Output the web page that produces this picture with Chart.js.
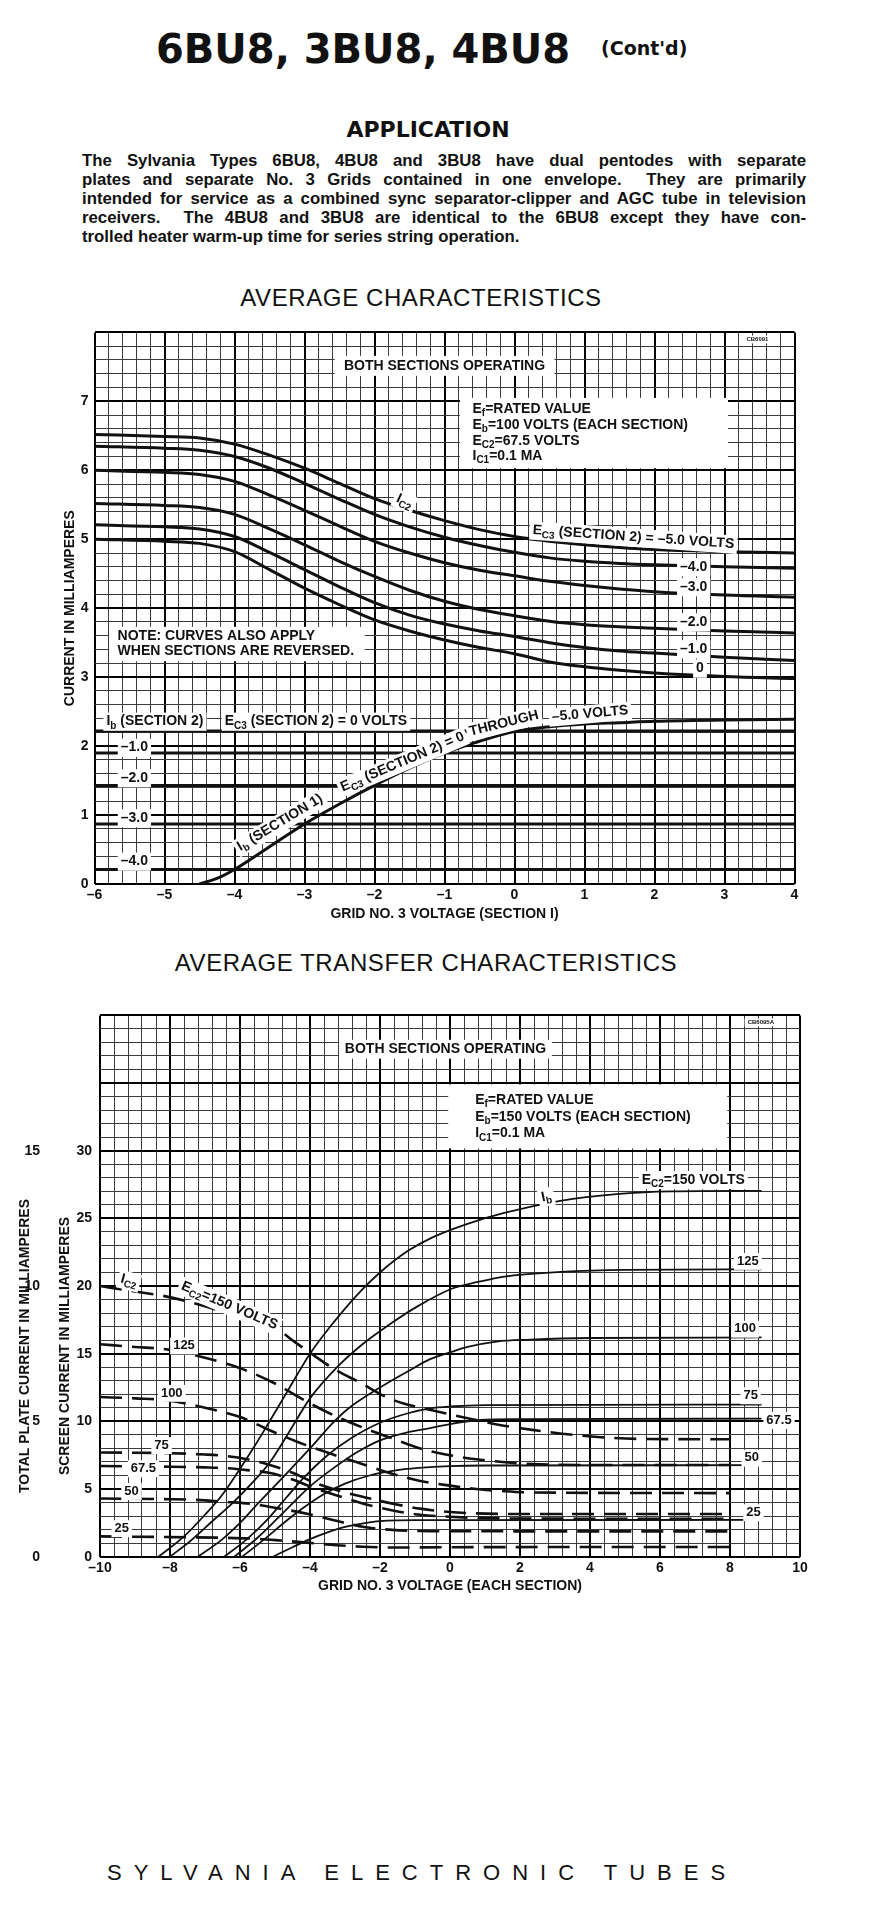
<!DOCTYPE html>
<html lang="en">
<head>
<meta charset="UTF-8">
<title>6BU8, 3BU8, 4BU8 (Cont'd)</title>
<script src="https://cdn.jsdelivr.net/npm/chart.js"></script>
<style>
  * { margin: 0; padding: 0; }
  body { width: 878px; height: 1913px; background: #fff; position: relative; overflow: hidden; color: #111; font-family: "Liberation Sans", Arial, sans-serif; }
  .abs { position: absolute; white-space: nowrap; }
  #tubes { left: 156px; top: 24px; font: bold 40px "DejaVu Sans", sans-serif; line-height: 50px; }
  #contd { left: 601px; top: 37px; font: bold 19px "DejaVu Sans", sans-serif; }
  #app { left: 0; width: 856px; top: 117px; text-align: center; font: bold 22px "DejaVu Sans", sans-serif; }
  #para { left: 82px; width: 724px; top: 151px; font: bold 16.8px "Liberation Sans", Arial, sans-serif; line-height: 19px; white-space: normal; }
  #para div { text-align: justify; text-align-last: justify; }
  #para div.last { text-align: left; text-align-last: left; }
  .head2 { left: 0; text-align: center; font: 24px "Liberation Sans", Arial, sans-serif; letter-spacing: 0.6px; }
  #foot { left: 107px; top: 1860px; font: 22px "Liberation Sans", Arial, sans-serif; letter-spacing: 12px; }
  .chartbox { position: absolute; left: 0; width: 878px; }
</style>
</head>
<body>
<div class="abs" id="tubes">6BU8, 3BU8, 4BU8</div>
<div class="abs" id="contd">(Cont'd)</div>
<div class="abs" id="app">APPLICATION</div>
<div class="abs" id="para">
  <div>The Sylvania Types 6BU8, 4BU8 and 3BU8 have dual pentodes with separate</div>
  <div>plates and separate No. 3 Grids contained in one envelope.&nbsp; They are primarily</div>
  <div>intended for service as a combined sync separator-clipper and AGC tube in television</div>
  <div>receivers.&nbsp; The 4BU8 and 3BU8 are identical to the 6BU8 except they have con-</div>
  <div class="last">trolled heater warm-up time for series string operation.</div>
</div>
<div class="abs head2" style="top:284px;width:842px">AVERAGE CHARACTERISTICS</div>
<div class="chartbox" style="top:318px;height:620px"><canvas id="chart1"></canvas></div>
<div class="abs head2" style="top:949px;width:852px">AVERAGE TRANSFER CHARACTERISTICS</div>
<div class="chartbox" style="top:995px;height:615px"><canvas id="chart2"></canvas></div>
<div class="abs" id="foot">SYLVANIA ELECTRONIC TUBES</div>

<script>
// ---------- chart 1 : average characteristics ----------
// grid no.3 voltage (section 1)
const grid3V = [-6, -5, -4.5, -4, -3.5, -3, -2.5, -2, -1.5, -1, -0.5, 0, 0.5, 1, 1.5, 2, 3, 4];
// Ic2 for Ec3 (section 2) = -5, -4, -3, -2, -1, 0 volts
const ic2Ec3m5 = [6.52, 6.49, 6.47, 6.38, 6.22, 6.03, 5.81, 5.59, 5.42, 5.27, 5.14, 5.04, 4.97, 4.92, 4.88, 4.85, 4.82, 4.80];
const ic2Ec3m4 = [6.35, 6.32, 6.29, 6.20, 6.03, 5.81, 5.58, 5.36, 5.18, 5.03, 4.91, 4.81, 4.73, 4.68, 4.65, 4.63, 4.60, 4.58];
const ic2Ec3m3 = [6.00, 5.97, 5.94, 5.84, 5.64, 5.42, 5.19, 4.97, 4.80, 4.66, 4.55, 4.47, 4.39, 4.33, 4.28, 4.24, 4.19, 4.16];
const ic2Ec3m2 = [5.52, 5.49, 5.46, 5.36, 5.15, 4.92, 4.68, 4.46, 4.26, 4.10, 3.98, 3.89, 3.81, 3.76, 3.73, 3.71, 3.67, 3.64];
const ic2Ec3m1 = [5.21, 5.18, 5.15, 5.04, 4.81, 4.56, 4.31, 4.08, 3.90, 3.77, 3.67, 3.59, 3.50, 3.43, 3.38, 3.35, 3.29, 3.24];
const ic2Ec3z0 = [5.00, 4.97, 4.94, 4.82, 4.56, 4.29, 4.05, 3.83, 3.67, 3.54, 3.43, 3.34, 3.22, 3.15, 3.10, 3.06, 3.01, 2.98];
// Ib (section 1)
const ib1V = [-4.5, -4.25, -4, -3.5, -3, -2.5, -2, -1.5, -1, -0.5, 0, 0.5, 1, 1.5, 2, 3, 4];
const ib1 = [0, 0.08, 0.21, 0.54, 0.87, 1.16, 1.43, 1.68, 1.90, 2.07, 2.21, 2.28, 2.32, 2.34, 2.36, 2.38, 2.39];
// Ib (section 2), flat lines for Ec3 (section 2)
const ib2Ec3 = [0, -1, -2, -3, -4];
const ib2Level = [2.22, 1.90, 1.43, 0.87, 0.21];
const x1Range = [-6, 4];

// ---------- chart 2 : average transfer characteristics ----------
const ec2Volts = [150, 125, 100, 75, 67.5, 50, 25];
// total plate current Ib (mA, outer scale)
const ibX150 = [-8.33, -7.6, -7.0, -6.5, -6.05, -5.6, -5.2, -4.65, -4.0, -3.33, -2.67, -2.0, -1.2, -0.5, 0.5, 1.55, 3.15, 4.75, 6.35, 8.9];
const ibY150 = [0, 0.75, 1.55, 2.3, 3.15, 4.05, 4.9, 6.1, 7.5, 8.65, 9.65, 10.5, 11.3, 11.8, 12.3, 12.7, 13.15, 13.4, 13.5, 13.52];
const ibX125 = [-8.0, -7.4, -6.8, -6.2, -5.6, -5.14, -4.6, -4.0, -3.19, -2.5, -1.65, -0.93, 0.05, 0.8, 1.55, 3.15, 5.0, 8.9];
const ibY125 = [0, 0.6, 1.3, 2.0, 2.8, 3.5, 4.6, 5.85, 7.05, 7.85, 8.65, 9.25, 9.9, 10.15, 10.35, 10.52, 10.6, 10.62];
const ibX100 = [-7.2, -6.5, -6.0, -5.5, -4.76, -4.0, -3.38, -2.93, -2.0, -1.2, -0.57, 0, 0.5, 1.33, 2.3, 4.0, 8.9];
const ibY100 = [0, 0.65, 1.25, 1.95, 2.95, 4.0, 4.9, 5.45, 6.25, 6.85, 7.3, 7.55, 7.75, 7.95, 8.02, 8.08, 8.1];
const ibX75 = [-6.45, -5.8, -5.2, -4.7, -4.19, -3.5, -2.86, -2.0, -1.2, -0.57, 0, 1.0, 8.9];
const ibY75 = [0, 0.65, 1.4, 2.15, 2.9, 3.75, 4.35, 4.95, 5.3, 5.48, 5.55, 5.6, 5.62];
const ibX675 = [-6.16, -5.5, -4.9, -4.4, -4.0, -3.3, -2.67, -2.0, -1.2, -0.57, 0, 0.86, 2.0, 8.9];
const ibY675 = [0, 0.7, 1.45, 2.1, 2.6, 3.3, 3.85, 4.3, 4.6, 4.75, 4.9, 5.05, 5.08, 5.1];
const ibX50 = [-5.94, -5.3, -4.7, -4.2, -3.62, -3.0, -2.3, -1.6, -0.9, 0, 1.0, 8.9];
const ibY50 = [0, 0.65, 1.3, 1.8, 2.3, 2.7, 3.0, 3.18, 3.28, 3.35, 3.37, 3.38];
const ibX25 = [-5.06, -4.5, -4.0, -3.5, -3.0, -2.4, -1.8, -1.0, 0, 8.9];
const ibY25 = [0, 0.35, 0.65, 0.9, 1.1, 1.25, 1.33, 1.35, 1.35, 1.36];
// screen current Ic2 (mA, inner scale)
const icX150 = [-10, -9, -8.05, -7, -6, -5, -4.4, -3.9, -3.33, -2.6, -1.65, -0.48, 0.57, 1.5, 2.35, 3.95, 5.55, 8];
const icY150 = [20.0, 19.6, 19.2, 18.5, 17.7, 16.9, 15.8, 14.9, 13.9, 12.9, 11.6, 10.8, 10.2, 9.7, 9.37, 8.9, 8.7, 8.68];
const icX125 = [-10, -9, -8.05, -7, -5.97, -5, -4.05, -3.2, -2.45, -1.6, -0.85, 0, 0.75, 1.5, 2.35, 3.95, 8];
const icY125 = [15.7, 15.5, 15.3, 14.7, 13.9, 12.8, 11.4, 10.3, 9.5, 8.7, 8.0, 7.5, 7.2, 7.0, 6.85, 6.78, 6.78];
const icX100 = [-10, -9, -8.05, -7, -5.97, -5.2, -4.37, -3.4, -2.45, -1.6, -0.85, 0, 0.75, 1.5, 2.35, 8];
const icY100 = [11.8, 11.7, 11.55, 11.0, 10.3, 9.4, 8.5, 7.6, 6.8, 6.1, 5.6, 5.25, 5.0, 4.85, 4.75, 4.7];
const icX75 = [-10, -8, -7, -6.45, -5.8, -5.17, -4.5, -3.9, -3.2, -2.45, -1.6, -0.85, 0, 0.75, 2, 8];
const icY75 = [7.7, 7.65, 7.55, 7.45, 7.2, 6.8, 6.2, 5.5, 4.9, 4.4, 3.9, 3.55, 3.3, 3.2, 3.15, 3.15];
const icX675 = [-10, -8, -7, -6.45, -5.8, -5.17, -4.5, -3.9, -3.2, -2.45, -1.6, -0.85, 0, 0.75, 2, 8];
const icY675 = [6.7, 6.65, 6.6, 6.55, 6.4, 6.2, 5.7, 5.1, 4.5, 3.9, 3.4, 3.1, 2.95, 2.87, 2.82, 2.8];
const icX50 = [-10, -8, -7.25, -6.4, -5.65, -4.85, -4.05, -3.25, -2.45, -1.65, -0.85, 0, 8];
const icY50 = [4.3, 4.25, 4.2, 4.05, 3.9, 3.55, 3.16, 2.65, 2.2, 1.98, 1.9, 1.88, 1.87];
const icX25 = [-10, -8, -6.45, -5.5, -4.85, -4, -3.25, -2.5, -1.65, 0, 8];
const icY25 = [1.5, 1.45, 1.4, 1.32, 1.2, 1.02, 0.85, 0.74, 0.68, 0.7, 0.72];
const x2Range = [-10, 10];

const FONT = '"Liberation Sans", Arial, sans-serif';
const INK = '#111';

function pts(xs, ys) { return xs.map((x, i) => ({ x: x, y: ys[i] })); }
function near(v, step) { return Math.abs(v / step - Math.round(v / step)) < 1e-6; }
function dash(v) { return v < 0 ? '\u2013' + Math.abs(v) : String(v); }

// text with ~subscript~ parts
function drawRich(ctx, text, x, y, size, align, rot, bg) {
  const parts = text.split('~');
  const big = 'bold ' + size + 'px ' + FONT;
  const small = 'bold ' + Math.round(size * 0.72) + 'px ' + FONT;
  let w = 0;
  const widths = parts.map((p, i) => {
    ctx.font = i % 2 ? small : big;
    const m = ctx.measureText(p).width;
    w += m;
    return m;
  });
  ctx.save();
  ctx.translate(x, y);
  ctx.rotate(rot * Math.PI / 180);
  let sx = align === 'left' ? 0 : align === 'right' ? -w : -w / 2;
  if (bg) {
    ctx.fillStyle = '#fff';
    ctx.fillRect(sx - 3, -size * 0.62, w + 6, size * 1.3);
  }
  ctx.fillStyle = INK;
  ctx.textBaseline = 'middle';
  ctx.textAlign = 'left';
  parts.forEach((p, i) => {
    ctx.font = i % 2 ? small : big;
    ctx.fillText(p, sx, i % 2 ? size * 0.32 : 0);
    sx += widths[i];
  });
  ctx.restore();
}

const annotate = {
  id: 'annotate',
  afterDatasetsDraw(chart, args, opts) {
    const ctx = chart.ctx;
    const xs = chart.scales.x, ys = chart.scales.y;
    ctx.save();
    (opts.boxes || []).forEach(b => {
      const x1 = xs.getPixelForValue(b[0]), y1 = ys.getPixelForValue(b[1]);
      const x2 = xs.getPixelForValue(b[2]), y2 = ys.getPixelForValue(b[3]);
      ctx.fillStyle = '#fff';
      ctx.fillRect(x1, y1, x2 - x1, y2 - y1);
    });
    (opts.labels || []).forEach(l => {
      drawRich(ctx, l.text, xs.getPixelForValue(l.x), ys.getPixelForValue(l.y),
        l.size || opts.size || 14, l.align || 'center', l.rot || 0, l.bg !== false);
    });
    (opts.titles || []).forEach(t => {
      drawRich(ctx, t.text, t.px, t.py, t.size || 14, 'center', t.rot || 0, false);
    });
    ctx.restore();
  }
};

function lineSet(data, extra) {
  return Object.assign({
    data: data, borderColor: INK, borderWidth: 3, pointRadius: 0, fill: false,
    cubicInterpolationMode: 'monotone', showLine: true
  }, extra || {});
}

function gridOpts(majorStep) {
  return {
    drawTicks: false,
    color: ctx => (ctx.tick && near(ctx.tick.value, majorStep)) ? '#000' : '#3a3a3a',
    lineWidth: ctx => (ctx.tick && near(ctx.tick.value, majorStep)) ? 2 : 1
  };
}
const tickFont = { family: FONT, size: 14, weight: 'bold' };
const titleFont = { family: FONT, size: 14, weight: 'bold' };

// ---------- chart 1 ----------
const ic2Sets = [ic2Ec3m5, ic2Ec3m4, ic2Ec3m3, ic2Ec3m2, ic2Ec3m1, ic2Ec3z0].map(s => lineSet(pts(grid3V, s)));
const ib2Sets = ib2Level.map(v => lineSet(pts(x1Range, [v, v]), { cubicInterpolationMode: 'default', tension: 0 }));

new Chart(document.getElementById('chart1'), {
  type: 'line',
  data: { datasets: ic2Sets.concat(ib2Sets, [lineSet(pts(ib1V, ib1))]) },
  options: {
    responsive: true, maintainAspectRatio: false, animation: false, events: [],
    layout: { padding: { top: 10, right: 83.5, left: 0, bottom: 0 } },
    plugins: {
      legend: { display: false }, tooltip: { enabled: false },
      annotate: {
        size: 14,
        boxes: [[-2.57, 7.66, 0.57, 7.37], [-0.78, 7.05, 3.05, 6.03], [-5.79, 3.73, -2.14, 3.23]],
        labels: [
          { x: -1.0, y: 7.515, text: 'BOTH SECTIONS OPERATING', bg: false },
          { x: 3.47, y: 7.9, text: 'CB6091', size: 6 },
          { x: -0.6, y: 6.89, text: 'E~f~=RATED VALUE', align: 'left', bg: false },
          { x: -0.6, y: 6.66, text: 'E~b~=100 VOLTS (EACH SECTION)', align: 'left', bg: false },
          { x: -0.6, y: 6.43, text: 'E~C2~=67.5 VOLTS', align: 'left', bg: false },
          { x: -0.6, y: 6.21, text: 'I~C1~=0.1 MA', align: 'left', bg: false },
          { x: -1.57, y: 5.55, text: 'I~C2~', rot: 25 },
          { x: 1.7, y: 5.03, text: 'E~C3~ (SECTION 2) = \u20135.0 VOLTS', rot: 4 },
          { x: 2.56, y: 4.6, text: '\u20134.0' },
          { x: 2.56, y: 4.31, text: '\u20133.0' },
          { x: 2.56, y: 3.80, text: '\u20132.0' },
          { x: 2.56, y: 3.41, text: '\u20131.0' },
          { x: 2.65, y: 3.13, text: '0' },
          { x: -5.67, y: 3.59, text: 'NOTE: CURVES ALSO APPLY', align: 'left', bg: false },
          { x: -5.67, y: 3.38, text: 'WHEN SECTIONS ARE REVERSED.', align: 'left', bg: false },
          { x: -5.83, y: 2.36, text: 'I~b~ (SECTION 2)', align: 'left' },
          { x: -4.14, y: 2.36, text: 'E~C3~ (SECTION 2) = 0 VOLTS', align: 'left' },
          { x: -5.43, y: 1.98, text: '\u20131.0' },
          { x: -5.43, y: 1.54, text: '\u20132.0' },
          { x: -5.43, y: 0.96, text: '\u20133.0' },
          { x: -5.43, y: 0.33, text: '\u20134.0' },
          { x: -3.35, y: 0.89, text: 'I~b~ (SECTION 1)', rot: -31 },
          { x: -1.6, y: 1.77, text: 'E~C3~ (SECTION 2) = 0', rot: -23 },
          { x: -0.15, y: 2.33, text: 'THROUGH', rot: -14 },
          { x: 1.08, y: 2.47, text: '\u20135.0 VOLTS', rot: -5 }
        ]
      }
    },
    scales: {
      x: {
        type: 'linear', min: x1Range[0], max: x1Range[1],
        ticks: { stepSize: 0.2, autoSkip: false, maxRotation: 0, padding: 3, color: INK, font: tickFont,
          callback: v => near(v, 1) ? dash(Math.round(v)) : '' },
        grid: gridOpts(1), border: { display: false },
        title: { display: true, text: 'GRID NO. 3 VOLTAGE (SECTION I)', color: INK, font: titleFont, padding: { top: 0, bottom: 15.6 } },
        afterFit: s => { s.height = 54; }
      },
      y: {
        type: 'linear', min: 0, max: 8,
        ticks: { stepSize: 0.2, autoSkip: false, padding: 6, color: INK, font: tickFont,
          callback: v => (near(v, 1) && v <= 7) ? String(Math.round(v)) : '' },
        grid: gridOpts(1), border: { display: false },
        title: { display: true, text: 'CURRENT IN MILLIAMPERES', color: INK, font: titleFont, padding: { top: 61.6, bottom: 0 } },
        afterFit: s => { s.width = 94.5; }
      }
    }
  },
  plugins: [annotate]
});

// ---------- chart 2 ----------
const ibSets = [[ibX150, ibY150], [ibX125, ibY125], [ibX100, ibY100], [ibX75, ibY75], [ibX675, ibY675], [ibX50, ibY50], [ibX25, ibY25]]
  .map(p => lineSet(pts(p[0], p[1]), { yAxisID: 'y2', borderWidth: 1.8 }));
const icSets = [[icX150, icY150], [icX125, icY125], [icX100, icY100], [icX75, icY75], [icX675, icY675], [icX50, icY50], [icX25, icY25]]
  .map(p => lineSet(pts(p[0], p[1]), { yAxisID: 'y', borderWidth: 2.6, borderDash: [22, 10] }));

new Chart(document.getElementById('chart2'), {
  type: 'line',
  data: { datasets: ibSets.concat(icSets) },
  options: {
    responsive: true, maintainAspectRatio: false, animation: false, events: [],
    layout: { padding: { top: 10, right: 78, left: 0, bottom: 0 } },
    plugins: {
      legend: { display: false }, tooltip: { enabled: false },
      annotate: {
        size: 13,
        boxes: [[-3.17, 38.2, 2.91, 36.8], [-0.05, 34.9, 7.92, 30.17]],
        labels: [
          { x: -0.13, y: 37.5, text: 'BOTH SECTIONS OPERATING', bg: false, size: 14 },
          { x: 8.88, y: 39.5, text: 'CB6095A', size: 6 },
          { x: 0.72, y: 33.75, text: 'E~f~=RATED VALUE', align: 'left', bg: false, size: 14 },
          { x: 0.72, y: 32.48, text: 'E~b~=150 VOLTS (EACH SECTION)', align: 'left', bg: false, size: 14 },
          { x: 0.72, y: 31.27, text: 'I~C1~=0.1 MA', align: 'left', bg: false, size: 14 },
          { x: 6.95, y: 27.86, text: 'E~C2~=' + ec2Volts[0] + ' VOLTS', size: 14 },
          { x: 2.75, y: 26.6, text: 'I~b~', rot: -12, size: 14 },
          { x: 8.51, y: 21.85, text: String(ec2Volts[1]) },
          { x: 8.43, y: 16.84, text: String(ec2Volts[2]) },
          { x: 8.59, y: 11.92, text: String(ec2Volts[3]) },
          { x: 9.4, y: 10.1, text: String(ec2Volts[4]) },
          { x: 8.62, y: 7.3, text: String(ec2Volts[5]) },
          { x: 8.67, y: 3.28, text: String(ec2Volts[6]) },
          { x: -9.17, y: 20.4, text: 'I~C2~', rot: 15, size: 14 },
          { x: -6.3, y: 18.55, text: 'E~C2~=' + ec2Volts[0] + ' VOLTS', rot: 23, size: 14 },
          { x: -7.6, y: 15.6, text: String(ec2Volts[1]) },
          { x: -7.95, y: 12.1, text: String(ec2Volts[2]) },
          { x: -8.24, y: 8.24, text: String(ec2Volts[3]) },
          { x: -8.76, y: 6.53, text: String(ec2Volts[4]) },
          { x: -9.1, y: 4.85, text: String(ec2Volts[5]) },
          { x: -9.38, y: 2.1, text: String(ec2Volts[6]) }
        ],
        titles: [
          { px: 25, py: 351, text: 'TOTAL PLATE CURRENT IN MILLIAMPERES', rot: -90 },
          { px: 65, py: 351, text: 'SCREEN CURRENT IN MILLIAMPERES', rot: -90 }
        ]
      }
    },
    scales: {
      x: {
        type: 'linear', min: x2Range[0], max: x2Range[1],
        ticks: { stepSize: 0.4, autoSkip: false, maxRotation: 0, padding: 3, color: INK, font: tickFont,
          callback: v => near(v, 2) ? dash(Math.round(v)) : '' },
        grid: gridOpts(2), border: { display: false },
        title: { display: true, text: 'GRID NO. 3 VOLTAGE (EACH SECTION)', color: INK, font: titleFont, padding: { top: 0, bottom: 15.6 } },
        afterFit: s => { s.height = 53.3; }
      },
      y: {
        type: 'linear', position: 'left', min: 0, max: 40, weight: 0,
        ticks: { stepSize: 1, autoSkip: false, padding: 8, color: INK, font: tickFont,
          callback: v => (near(v, 5) && v <= 30) ? String(Math.round(v)) : '' },
        grid: gridOpts(5), border: { display: false },
        afterFit: s => { s.width = 40; }
      },
      y2: {
        type: 'linear', position: 'left', min: 0, max: 20, weight: 1,
        ticks: { stepSize: 5, autoSkip: false, padding: 12, color: INK, font: tickFont,
          callback: v => v <= 15 ? String(v) : '' },
        grid: { display: false }, border: { display: false },
        afterFit: s => { s.width = 60; }
      }
    }
  },
  plugins: [annotate]
});
</script>
</body>
</html>
